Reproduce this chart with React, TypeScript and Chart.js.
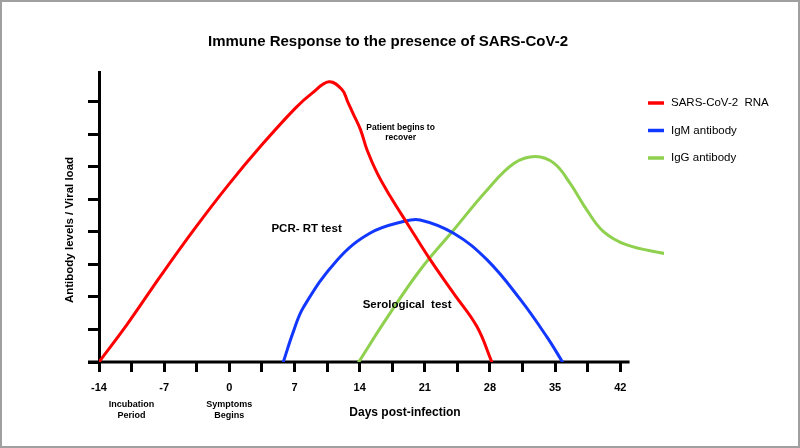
import { useEffect, useRef } from 'react';
import { Chart, registerables } from 'chart.js';

Chart.register(...registerables);

const FONT = '"Liberation Sans", Arial, Helvetica, sans-serif';

// ---- data (days post-infection, relative level) ----
const rnaDays = [-14, -10.9, -7.3, -3.7, -0.1, 3.5, 7.1, 8.9, 10.7, 12.1, 12.7, 13.3, 14.1, 14.8, 15.9, 17.3, 19.1, 21.6, 24.1, 26.6, 28.2];
const rnaLevels = [0, 1.19, 2.68, 4.11, 5.45, 6.68, 7.81, 8.27, 8.62, 8.38, 8.02, 7.64, 7.14, 6.52, 5.8, 5.09, 4.27, 3.14, 2.11, 1.09, 0];

const igmDays = [5.8, 6.9, 8.0, 11.6, 15.1, 18.7, 20.5, 24.1, 27.7, 31.3, 34.1, 35.8];
const igmLevels = [0, 0.95, 1.7, 3.14, 3.96, 4.32, 4.37, 3.96, 3.14, 1.91, 0.78, 0];

const iggDays = [13.9, 16.9, 20.5, 24.1, 27.7, 30.6, 32.9, 34.9, 36.6, 38.4, 40.2, 42.7, 46.7];
const iggLevels = [0, 1.34, 2.83, 4.06, 5.29, 6.11, 6.32, 6.11, 5.5, 4.68, 4.01, 3.6, 3.34];

const seriesNames = ['SARS-CoV-2  RNA', 'IgM antibody', 'IgG antibody'];
const seriesColors = ['#ff0000', '#1238ff', '#8fd14f'];

const xTickValues = [-14, -10.5, -7, -3.5, 0, 3.5, 7, 10.5, 14, 17.5, 21, 24.5, 28, 31.5, 35, 38.5, 42];
const xLabelValues = [-14, -7, 0, 7, 14, 21, 28, 35, 42];
const yTickValues = [0, 1, 2, 3, 4, 5, 6, 7, 8];

const chartTitle = 'Immune Response to the presence of SARS-CoV-2';
const xAxisTitle = 'Days post-infection';
const yAxisTitle = 'Antibody levels / Viral load';

const phaseNotes = [
  { day: -10.5, lines: ['Incubation', 'Period'] },
  { day: 0, lines: ['Symptoms', 'Begins'] },
];
const plotNotes = [
  { day: 8.3, level: 4.1, lines: ['PCR- RT test'], size: 11.5, lh: 13 },
  { day: 19.1, level: 1.75, lines: ['Serological  test'], size: 11.5, lh: 13 },
  { day: 18.4, level: 7.05, lines: ['Patient begins to', 'recover'], size: 8.5, lh: 10 },
];

const toPoints = (xs: number[], ys: number[]) => xs.map((x, i) => ({ x, y: ys[i] }));

const overlayPlugin = {
  id: 'overlay',
  beforeDatasetsDraw(chart: any) {
    const { ctx, chartArea, scales } = chart;
    const x = scales.x;
    ctx.save();
    ctx.strokeStyle = '#000';
    ctx.lineWidth = 3;
    ctx.beginPath();
    ctx.moveTo(chartArea.left - 11, chartArea.bottom);
    ctx.lineTo(x.getPixelForValue(43), chartArea.bottom);
    ctx.stroke();
    ctx.restore();
  },
  afterDraw(chart: any) {
    const { ctx, chartArea, scales } = chart;
    const x = scales.x;
    const y = scales.y;
    ctx.save();
    ctx.fillStyle = '#000';
    ctx.textAlign = 'center';
    ctx.textBaseline = 'middle';

    // title
    ctx.font = `bold 15px ${FONT}`;
    ctx.fillText(chartTitle, 388, 42);

    // x axis title
    ctx.font = `bold 12px ${FONT}`;
    ctx.fillText(xAxisTitle, 405, 413);

    // y axis title
    ctx.save();
    ctx.translate(70, 230);
    ctx.rotate(-Math.PI / 2);
    ctx.font = `bold 11.5px ${FONT}`;
    ctx.fillText(yAxisTitle, 0, 0);
    ctx.restore();

    // phase notes under the axis
    ctx.font = `bold 9px ${FONT}`;
    phaseNotes.forEach((n) => {
      const px = x.getPixelForValue(n.day);
      n.lines.forEach((l, i) => ctx.fillText(l, px, chartArea.bottom + 43 + i * 11));
    });

    // notes inside the plot
    plotNotes.forEach((n) => {
      ctx.font = `bold ${n.size}px ${FONT}`;
      const px = x.getPixelForValue(n.day);
      const py = y.getPixelForValue(n.level);
      const off = ((n.lines.length - 1) * n.lh) / 2;
      n.lines.forEach((l, i) => ctx.fillText(l, px, py - off + i * n.lh));
    });

    // legend
    ctx.textAlign = 'left';
    ctx.font = `11.5px ${FONT}`;
    chart.data.datasets.forEach((ds: any, i: number) => {
      const ly = 103 + i * 27.5;
      ctx.strokeStyle = ds.borderColor;
      ctx.lineWidth = 3.5;
      ctx.beginPath();
      ctx.moveTo(648, ly);
      ctx.lineTo(664, ly);
      ctx.stroke();
      ctx.fillStyle = '#000';
      ctx.fillText(ds.label, 671, ly);
    });
    ctx.restore();
  },
};

export default function App() {
  const canvasRef = useRef<HTMLCanvasElement | null>(null);

  useEffect(() => {
    const canvas = canvasRef.current;
    if (!canvas) return;
    const seriesData = [
      toPoints(rnaDays, rnaLevels),
      toPoints(igmDays, igmLevels),
      toPoints(iggDays, iggLevels),
    ];
    const chart = new Chart(canvas, {
      type: 'line',
      data: {
        datasets: seriesData.map((d, i) => ({
          label: seriesNames[i],
          data: d,
          borderColor: seriesColors[i],
          backgroundColor: seriesColors[i],
          borderWidth: 3,
          pointRadius: 0,
          fill: false,
          tension: 0.4,
          borderCapStyle: 'round' as const,
          borderJoinStyle: 'round' as const,
        })),
      },
      options: {
        responsive: false,
        animation: false,
        devicePixelRatio: 1,
        parsing: false as any,
        layout: { padding: { top: 72, left: 0, right: 136, bottom: 0 } },
        plugins: {
          legend: { display: false },
          title: { display: false },
          tooltip: { enabled: false },
        },
        scales: {
          x: {
            type: 'linear',
            min: -14,
            max: 46.7,
            afterBuildTicks: (s: any) => {
              s.ticks = xTickValues.map((v) => ({ value: v }));
            },
            afterFit: (s: any) => {
              s.height = 86;
            },
            ticks: {
              autoSkip: false,
              maxRotation: 0,
              padding: 9,
              color: '#000',
              font: { family: FONT, size: 11, weight: 'bold' },
              callback: (v: any) => (xLabelValues.includes(Number(v)) ? String(v) : ''),
            },
            grid: {
              drawOnChartArea: false,
              drawTicks: true,
              tickLength: 10,
              tickWidth: 3,
              color: '#000',
            },
            border: { display: false },
          },
          y: {
            type: 'linear',
            min: 0,
            max: 8.92,
            afterBuildTicks: (s: any) => {
              s.ticks = yTickValues.map((v) => ({ value: v }));
            },
            afterFit: (s: any) => {
              s.width = 99;
            },
            ticks: { display: false },
            grid: {
              drawOnChartArea: false,
              drawTicks: true,
              tickLength: 11,
              tickWidth: 3,
              color: '#000',
            },
            border: { display: true, color: '#000', width: 3 },
          },
        },
      },
      plugins: [overlayPlugin],
    } as any);
    return () => chart.destroy();
  }, []);

  return (
    <div style={{ position: 'fixed', left: 0, top: 0, width: 800, height: 448, background: '#fff' }}>
      <canvas ref={canvasRef} width={800} height={448} style={{ display: 'block', width: 800, height: 448 }} />
      <div
        style={{
          position: 'absolute',
          left: 0,
          top: 0,
          width: 800,
          height: 448,
          boxSizing: 'border-box',
          border: '2px solid #a0a0a0',
          pointerEvents: 'none',
        }}
      />
    </div>
  );
}
